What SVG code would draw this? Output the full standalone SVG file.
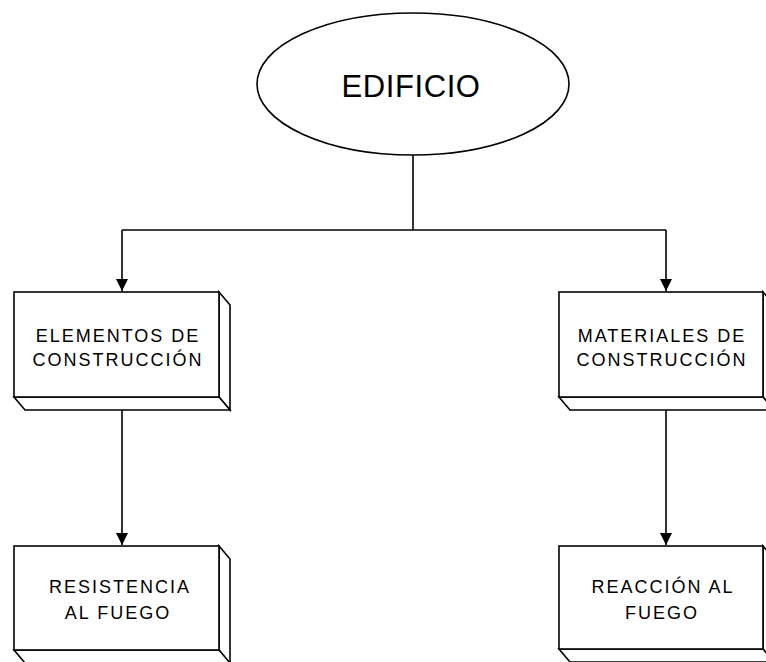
<svg xmlns="http://www.w3.org/2000/svg" width="766" height="662" viewBox="0 0 766 662">
<defs>
<style>
.shape{fill:#fff;stroke:#000;stroke-width:1.6;stroke-linejoin:miter}
.side{fill:#fff;stroke:#000;stroke-width:1.6}
.lbl{font-family:"Liberation Sans",Arial,sans-serif;font-size:18px;letter-spacing:2px;fill:#000;text-anchor:middle}
.title{font-family:"Liberation Sans",Arial,sans-serif;font-size:31px;letter-spacing:0.6px;fill:#000;text-anchor:middle}
.conn{fill:none;stroke:#000;stroke-width:1.6}
</style>
<marker id="arr" viewBox="0 0 12 12" refX="12" refY="6" markerWidth="12" markerHeight="12" markerUnits="userSpaceOnUse" orient="auto">
<path d="M0,0 L12,6 L0,12 z" fill="#000"/>
</marker>
</defs>
<rect width="766" height="662" fill="#fff"/>
<g id="connectors">
<path class="conn" d="M413,155 V230"/>
<path class="conn" d="M122,230 H666"/>
<path class="conn" d="M122,230 V291" marker-end="url(#arr)"/>
<path class="conn" d="M666,230 V291" marker-end="url(#arr)"/>
<path class="conn" d="M122,410 V545" marker-end="url(#arr)"/>
<path class="conn" d="M666,410 V545" marker-end="url(#arr)"/>
</g>
<g id="edificio">
<ellipse class="shape" cx="413" cy="84" rx="156" ry="71"/>
<text class="title" x="411" y="97">EDIFICIO</text>
</g>
<g id="elementos">
<path class="side" d="M219,292 L230,305 L230,410 L219,397 z"/>
<path class="side" d="M14,397 L219,397 L230,410 L25,410 z"/>
<rect class="shape" x="14" y="292" width="205" height="105"/>
<text class="lbl" x="118" y="342">ELEMENTOS DE</text>
<text class="lbl" x="118" y="366">CONSTRUCCIÓN</text>
</g>
<g id="materiales">
<path class="side" d="M763,292 L774,305 L774,410 L763,397 z"/>
<path class="side" d="M559,397 L763,397 L774,410 L570,410 z"/>
<rect class="shape" x="559" y="292" width="204" height="105"/>
<text class="lbl" x="662" y="342">MATERIALES DE</text>
<text class="lbl" x="662" y="366">CONSTRUCCIÓN</text>
</g>
<g id="resistencia">
<path class="side" d="M219,546 L230,559 L230,664 L219,650 z"/>
<path class="side" d="M14,650 L219,650 L230,663 L25,663 z"/>
<rect class="shape" x="14" y="546" width="205" height="104"/>
<text class="lbl" x="120" y="593">RESISTENCIA</text>
<text class="lbl" x="118" y="619">AL FUEGO</text>
</g>
<g id="reaccion">
<path class="side" d="M763,546 L774,559 L774,664 L763,649 z"/>
<path class="side" d="M559,649 L763,649 L774,662 L570,662 z"/>
<rect class="shape" x="559" y="546" width="204" height="103"/>
<text class="lbl" x="663" y="593">REACCIÓN AL</text>
<text class="lbl" x="662" y="619">FUEGO</text>
</g>
</svg>
